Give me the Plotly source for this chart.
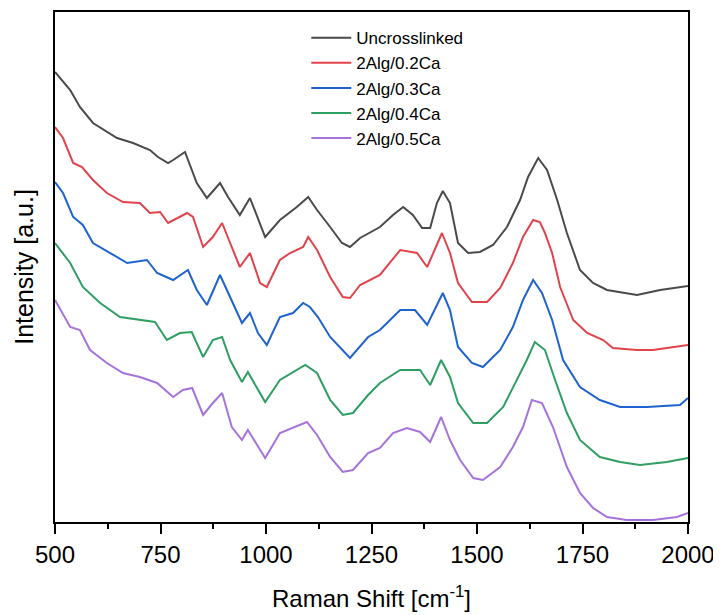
import plotly.graph_objects as go

# Raman shift (cm^-1) and intensity (a.u., offset-stacked as plotted)
x_uncross = [500,536,559,590,647,685,725,744,768,780,808,836,860,891,910,938,962,979,998,1033,1073,1100,1121,1152,1180,1199,1223,1270,1301,1325,1348,1370,1389,1405,1419,1436,1455,1479,1507,1538,1571,1602,1621,1645,1666,1690,1713,1744,1775,1808,1839,1879,1934,2000]
y_uncross = [450,432,415,399,384,379,372,365,359,362,370,339,324,339,325,307,324,305,285,302,315,325,312,295,279,275,284,295,307,315,307,294,294,319,331,319,279,269,270,277,295,322,345,364,352,322,289,252,239,232,230,227,232,236]

x_02 = [500,519,543,564,590,623,661,701,725,749,768,789,813,827,851,874,896,915,938,962,986,1002,1033,1057,1088,1100,1121,1152,1182,1199,1223,1270,1318,1358,1382,1417,1436,1455,1488,1524,1555,1585,1609,1633,1649,1661,1678,1697,1728,1761,1799,1822,1879,1917,2000]
y_02 = [395,384,359,355,342,329,320,319,309,310,299,304,309,305,275,285,299,279,255,269,239,235,262,269,275,285,272,245,225,224,237,247,272,269,255,289,269,239,220,220,234,259,285,302,300,289,269,235,202,189,182,174,172,172,177]

x_03 = [500,519,543,566,590,630,671,718,742,780,815,836,860,891,915,943,962,981,1002,1033,1064,1088,1104,1123,1152,1180,1199,1242,1270,1318,1353,1382,1419,1436,1455,1488,1514,1555,1585,1609,1633,1654,1678,1704,1744,1791,1839,1903,1981,2000]
y_03 = [340,329,305,297,279,269,259,262,249,242,252,232,217,247,225,199,209,189,177,205,209,219,215,205,185,172,164,185,192,212,212,197,229,212,175,159,155,172,195,222,242,229,202,162,135,122,115,115,117,124]

x_04 = [500,536,566,607,654,701,737,765,796,824,851,874,896,915,943,957,998,1033,1064,1093,1121,1152,1182,1206,1242,1270,1318,1365,1389,1415,1436,1455,1491,1524,1562,1595,1618,1637,1661,1685,1713,1744,1791,1839,1886,1950,2000]
y_04 = [279,259,235,219,205,202,200,182,189,190,165,182,185,162,140,150,120,142,150,157,149,122,107,109,127,139,152,152,137,162,145,119,99,99,115,142,162,180,172,142,109,82,65,60,57,60,64]

x_05 = [500,536,559,583,623,661,701,742,780,803,825,851,874,896,919,943,957,998,1033,1064,1097,1121,1152,1182,1206,1242,1270,1301,1334,1365,1389,1415,1436,1460,1491,1514,1555,1585,1609,1630,1654,1680,1713,1744,1775,1808,1855,1917,1974,2000]
y_05 = [222,195,192,172,159,149,145,139,125,132,134,107,119,129,95,82,92,64,89,94,100,87,65,50,52,69,74,89,94,90,80,105,82,62,44,42,55,75,95,122,119,95,55,29,14,5,2,2,5,9]

names = ["Uncrosslinked", "2Alg/0.2Ca", "2Alg/0.3Ca", "2Alg/0.4Ca", "2Alg/0.5Ca"]
colors = ["#4a4a4a", "#e2434b", "#1e63d0", "#2f9e63", "#a673db"]
xs = [x_uncross, x_02, x_03, x_04, x_05]
ys = [y_uncross, y_02, y_03, y_04, y_05]
x_ticks = [500, 750, 1000, 1250, 1500, 1750, 2000]
x_minor = [625, 875, 1125, 1375, 1625, 1875]

fig = go.Figure()
for n, c, xv, yv in zip(names, colors, xs, ys):
    fig.add_trace(go.Scatter(x=xv, y=yv, mode="lines", name=n,
                             line=dict(color=c, width=2)))

# the page body adds an 8px margin, so the figure is 8px smaller and margins compensate
fig.update_layout(
    width=713, height=607,
    margin=dict(l=47, r=33, t=4, b=93, autoexpand=False),
    paper_bgcolor="white", plot_bgcolor="white",
    font=dict(family="Liberation Sans, Arial, sans-serif", color="black"),
    showlegend=True,
    legend=dict(x=0.397, y=0.984, xanchor="left", yanchor="top",
                bgcolor="rgba(0,0,0,0)", font=dict(size=17),
                tracegroupgap=0, itemwidth=40),
)
fig.update_xaxes(
    range=[500, 2000], tickvals=x_ticks,
    ticks="outside", ticklen=10, tickwidth=2, tickcolor="black",
    minor=dict(tickvals=x_minor, ticks="outside",
               ticklen=5, tickwidth=2, tickcolor="black"),
    showline=True, linewidth=2, linecolor="black", mirror=True,
    showgrid=False, zeroline=False, automargin=False,
    tickfont=dict(size=24),
    title=dict(text="Raman Shift [cm<sup>-1</sup>]", font=dict(size=24), standoff=23),
)
fig.update_yaxes(
    range=[0, 510], showticklabels=False, ticks="",
    showline=True, linewidth=2, linecolor="black", mirror=True,
    showgrid=False, zeroline=False, automargin=False,
    title=dict(text="Intensity [a.u.]", font=dict(size=25), standoff=12),
)

fig.write_html("out.html")
